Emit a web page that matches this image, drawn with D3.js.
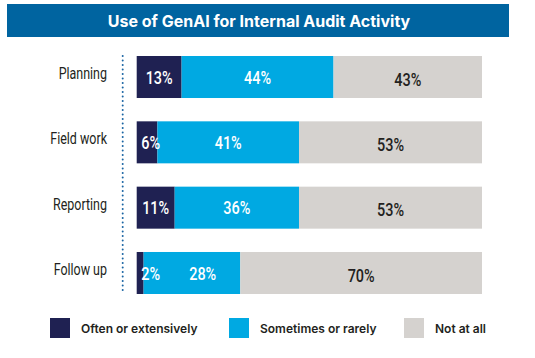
<!DOCTYPE html>
<html>
<head>
<meta charset="utf-8">
<script src="https://cdn.jsdelivr.net/npm/d3@7"></script>
<style>
  body { margin: 0; background: #fff; }
  .cat { font-family: Roboto, "Liberation Sans", sans-serif; font-size: 16px; fill: #231f20; }
  .val { font-family: Roboto, "Liberation Sans", sans-serif; font-size: 19px; font-weight: 500; }
  .legend text { font-family: Inter, "Noto Sans", sans-serif; font-weight: 600; font-size: 12px; fill: #231f20; }
</style>
</head>
<body>
<svg width="535" height="358"></svg>
<script>
var categories = ["Planning", "Field work", "Reporting", "Follow up"];
var often = [13, 6, 11, 2];
var sometimes = [44, 41, 36, 28];
var notAtAll = [43, 53, 53, 70];
var seriesNames = ["Often or extensively", "Sometimes or rarely", "Not at all"];
var title = "Use of GenAI for Internal Audit Activity";

var colors = ["#1f2152", "#00a9e2", "#d5d2cf"];
var textColors = ["#fff", "#fff", "#231f20"];
var narrow = 0.76; // squeeze to mimic the condensed face

var svg = d3.select("svg");

// title bar
svg.append("rect")
  .attr("x", 7).attr("y", 4).attr("width", 502).attr("height", 33)
  .attr("fill", "#0064a0");
svg.append("text")
  .attr("x", 259).attr("y", 20.5)
  .attr("text-anchor", "middle").attr("dominant-baseline", "central")
  .style("font-family", "Inter, 'Noto Sans', sans-serif")
  .style("font-weight", 700).style("font-size", "16px")
  .attr("fill", "#fff")
  .text(title);

var rows = categories.map(function(c, i) {
  return { cat: c, values: [often[i], sometimes[i], notAtAll[i]] };
});

var x = d3.scaleLinear().domain([0, 100]).range([136.7, 482]);
var y = d3.scaleBand().domain(categories).range([56, 294])
  .paddingInner(0.357).paddingOuter(0);

// dotted axis
svg.append("line")
  .attr("x1", 122.7).attr("x2", 122.7)
  .attr("y1", 56).attr("y2", 292)
  .attr("stroke", "#1a64a3")
  .attr("stroke-width", 2)
  .attr("stroke-linecap", "round")
  .attr("stroke-dasharray", "0 4.5");

var row = svg.selectAll("g.row")
  .data(rows)
  .enter().append("g")
  .attr("class", "row")
  .attr("transform", function(d) { return "translate(0," + y(d.cat) + ")"; });

row.append("text")
  .attr("class", "cat")
  .attr("transform", "translate(107," + (y.bandwidth() / 2 - 3) + ") scale(0.78,1)")
  .attr("text-anchor", "end")
  .attr("dominant-baseline", "central")
  .text(function(d) { return d.cat; });

row.each(function(d) {
  var g = d3.select(this);
  var acc = 0, prevLabel = -Infinity, labels = [];
  d.values.forEach(function(v, k) {
    var x0 = x(acc), x1 = x(acc + v);
    g.append("rect")
      .attr("x", x0).attr("y", 0)
      .attr("width", x1 - x0).attr("height", y.bandwidth())
      .attr("fill", colors[k]);
    var lx = Math.max((x0 + x1) / 2, x0 + 14, prevLabel + 52);
    prevLabel = lx;
    labels.push({ x: lx, v: v, k: k });
    acc += v;
  });
  labels.forEach(function(l) {
    g.append("text")
      .attr("class", "val")
      .attr("transform", "translate(" + l.x + "," + (y.bandwidth() / 2 + (l.k == 2 ? 2 : 0)) + ") scale(" + narrow + ",1)")
      .attr("text-anchor", "middle")
      .attr("dominant-baseline", "central")
      .attr("fill", textColors[l.k])
      .text(l.v + "%");
  });
});

// legend
var legendX = [50, 229, 404];
var legend = svg.append("g").attr("class", "legend")
  .selectAll("g")
  .data(seriesNames)
  .enter().append("g")
  .attr("transform", function(d, i) { return "translate(" + legendX[i] + ",318)"; });
legend.append("rect")
  .attr("width", 20).attr("height", 20)
  .attr("fill", function(d, i) { return colors[i]; });
legend.append("text")
  .attr("x", 31).attr("y", 10.5)
  .attr("dominant-baseline", "central")
  .text(function(d) { return d; });
</script>
</body>
</html>
